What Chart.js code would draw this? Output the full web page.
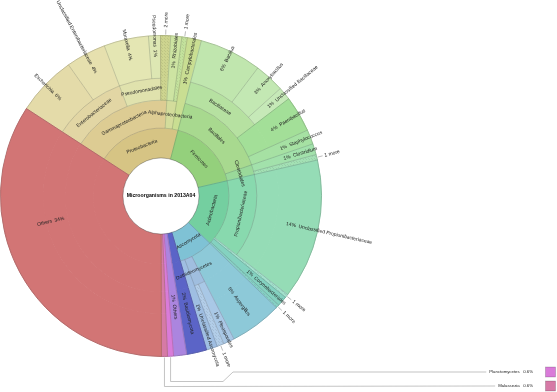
<!DOCTYPE html>
<html>
<head>
<meta charset="utf-8">
<title>Microorganisms in 2013A04</title>
<script src="https://cdn.jsdelivr.net/npm/chart.js@4.4.1/dist/chart.umd.min.js"></script>
<style>
    html, body { margin: 0; padding: 0; background: #fff; }
    #wrap { width: 557px; height: 392px; }
</style>
</head>
<body>
<div id="wrap"><canvas id="krona" width="557" height="392"></canvas></div>
<script>
// leaves, clockwise from the top-left edge of "Others"
const leafNames = [
    'Escherichia', 'Unclassified Enterobacteriaceae', 'Moraxella', 'Pseudomonas', '2 more',
    'Rhizobiales', '1 more', 'Campylobacterales',
    'Bacillus', 'Anoxybacillus', 'Unclassified Bacillaceae', 'Paenibacillus', 'Staphylococcus',
    'Clostridium', '1 more',
    'Unclassified Propionibacteriaceae', '1 more', 'Corynebacteriales', '1 more',
    'Aspergillus', 'Pleosporales', '1 more', 'Unclassified Ascomycota',
    'Basidiomycota', 'Others', 'Planctomycetes', 'Malassezia', 'Others'
];
// percent of all reads
const leafValues = [
    6.0, 4.0, 4.45, 1.2, 1.0,
    1.1, 0.55, 1.4,
    6.2, 3.0, 1.3, 3.6, 1.45,
    1.1, 0.55,
    14.0, 0.35, 1.0, 0.35,
    5.2, 1.1, 0.7, 1.1,
    2.0, 1.3, 0.6, 0.6, 33.9
];
// ranks above each leaf, inner ring first
const leafLineage = [
    ['Proteobacteria', 'Gammaproteobacteria', 'Enterobacteriaceae'],
    ['Proteobacteria', 'Gammaproteobacteria', 'Enterobacteriaceae'],
    ['Proteobacteria', 'Gammaproteobacteria', 'Pseudomonadales'],
    ['Proteobacteria', 'Gammaproteobacteria', 'Pseudomonadales'],
    ['Proteobacteria', 'Gammaproteobacteria'],
    ['Proteobacteria', 'Alphaproteobacteria'],
    ['Proteobacteria', 'Alphaproteobacteria'],
    ['Proteobacteria'],
    ['Firmicutes', 'Bacillales', 'Bacillaceae'],
    ['Firmicutes', 'Bacillales', 'Bacillaceae'],
    ['Firmicutes', 'Bacillales', 'Bacillaceae'],
    ['Firmicutes', 'Bacillales'],
    ['Firmicutes', 'Bacillales'],
    ['Firmicutes', 'Clostridiales'],
    ['Firmicutes', 'Clostridiales'],
    ['Actinobacteria', 'Propionibacteriaceae'],
    ['Actinobacteria'],
    ['Actinobacteria'],
    ['Actinobacteria'],
    ['Ascomycota'],
    ['Ascomycota', 'Dothideomycetes'],
    ['Ascomycota', 'Dothideomycetes'],
    ['Ascomycota'],
    [], [], [], [], []
];
// too thin to label, shown in the key bottom right
const keyLeaves = ['Planctomycetes', 'Malassezia'];
const chartTitle = 'Microorganisms in 2013A04';

const leafColors = [
    '#e4dba9', '#e6e0ae', '#e4e6b3', '#dde7b3', '#cdd48f',
    '#cde4a2', '#c3e19c', '#c9de92',
    '#c0e6ae', '#c3e8b3', '#c6e9b8', '#a3df98', '#a6e1a3',
    '#a2e1ab', '#a3e0b4',
    '#95dcb6', '#a3e0cc', '#84d2c0', '#86d0c4',
    '#8dc9d8', '#a9c8e6', '#b2cde8', '#9fbee2',
    '#5b64c7', '#ab85df', '#d97bd9', '#d67aa6', '#d27575'
];
const nodeColors = {
    'Proteobacteria': '#d6c484', 'Gammaproteobacteria': '#ddcc93', 'Enterobacteriaceae': '#e2d6a4',
    'Pseudomonadales': '#e0e2ad', 'Alphaproteobacteria': '#d3dc9b',
    'Firmicutes': '#94d07c', 'Bacillales': '#a8d98f', 'Bacillaceae': '#b6e1a1', 'Clostridiales': '#9ad99a',
    'Actinobacteria': '#74cfa0', 'Propionibacteriaceae': '#88d9ae',
    'Ascomycota': '#7fc2d5', 'Dothideomycetes': '#a0bedf'
};
// ring thickness, inner ring first
const ringWeights = [30, 28, 22, 43];
const FONT = '"Liberation Sans", Arial, sans-serif';

function isMore(name) {
    return / more$/.test(name);
}

// faint cross hatch for the grouped "n more" wedges
function hatch(color) {
    var c = document.createElement('canvas');
    c.width = 3; c.height = 3;
    var g = c.getContext('2d');
    g.fillStyle = color;
    g.fillRect(0, 0, 3, 3);
    g.fillStyle = 'rgba(0,0,0,0.07)';
    g.fillRect(0, 0, 1, 1);
    g.fillRect(2, 2, 1, 1);
    return g.createPattern(c, 'repeat');
}

// one ring: consecutive leaves with the same node at this depth share a wedge,
// a leaf that stops early keeps its wedge out to the rim
function buildRing(depth) {
    var ring = { data: [], labels: [], fill: [], edge: [], segs: [] };
    leafNames.forEach(function (name, i) {
        var path = leafLineage[i].concat([name]);
        var d = Math.min(depth, path.length - 1);
        var key = path.slice(0, d + 1).join('/');
        var n = ring.segs.length;
        if (n && ring.segs[n - 1].key === key) {
            ring.data[n - 1] += leafValues[i];
            return;
        }
        var leaf = d === path.length - 1;
        var color = leaf ? leafColors[i] : nodeColors[path[d]];
        ring.segs.push({ key: key, name: path[d], leaf: leaf ? i : -1, cont: depth > d });
        ring.labels.push(path[d]);
        ring.data.push(leafValues[i]);
        ring.fill.push(leaf && isMore(name) ? hatch(color) : color);
        ring.edge.push(color);
    });
    return ring;
}

function radialText(ctx, cx, cy, a, r0, text) {
    var right = Math.cos(a) >= -0.001;
    ctx.save();
    ctx.translate(cx, cy);
    ctx.rotate(right ? a : a + Math.PI);
    ctx.textAlign = right ? 'left' : 'right';
    ctx.textBaseline = 'middle';
    ctx.fillText(text, right ? r0 : -r0, 0);
    ctx.restore();
}

function tangentText(ctx, cx, cy, a, r, text) {
    var rot = a + Math.PI / 2;
    if (Math.sin(a) > 0) rot -= Math.PI;
    ctx.save();
    ctx.translate(cx + r * Math.cos(a), cy + r * Math.sin(a));
    ctx.rotate(rot);
    ctx.textAlign = 'center';
    ctx.textBaseline = 'middle';
    ctx.fillText(text, 0, 0);
    ctx.restore();
}

function pct(v) {
    return (v < 1 ? v.toFixed(1) : Math.round(v)) + '%';
}

const kronaPlugin = {
    id: 'krona',
    afterDatasetsDraw(chart) {
        var ctx = chart.ctx;
        var rim = chart.getDatasetMeta(0).controller.outerRadius;
        var hole = 0, cx = 0, cy = 0;
        var keyPoints = {};

        // divider lines
        ctx.save();
        ctx.strokeStyle = 'rgba(70,70,70,0.45)';
        ctx.lineWidth = 0.5;
        chart.data.datasets.forEach(function (ds, di) {
            chart.getDatasetMeta(di).data.forEach(function (arc, i) {
                var p = arc.getProps(['x', 'y', 'startAngle', 'endAngle', 'innerRadius', 'outerRadius']);
                var seg = ds.segs[i];
                cx = p.x; cy = p.y;
                ctx.beginPath();
                ctx.moveTo(p.x + p.innerRadius * Math.cos(p.startAngle), p.y + p.innerRadius * Math.sin(p.startAngle));
                ctx.lineTo(p.x + p.outerRadius * Math.cos(p.startAngle), p.y + p.outerRadius * Math.sin(p.startAngle));
                ctx.stroke();
                if (!seg.cont) {
                    ctx.beginPath();
                    ctx.arc(p.x, p.y, p.innerRadius, p.startAngle, p.endAngle);
                    ctx.stroke();
                }
                if (di === 0) {
                    ctx.beginPath();
                    ctx.arc(p.x, p.y, p.outerRadius, p.startAngle, p.endAngle);
                    ctx.stroke();
                }
                if (di === chart.data.datasets.length - 1) hole = p.innerRadius;
            });
        });
        ctx.restore();

        // labels
        ctx.save();
        ctx.fillStyle = '#222';
        ctx.font = '5px ' + FONT;
        chart.data.datasets.forEach(function (ds, di) {
            chart.getDatasetMeta(di).data.forEach(function (arc, i) {
                var seg = ds.segs[i];
                if (seg.cont) return;
                var p = arc.getProps(['x', 'y', 'startAngle', 'endAngle', 'innerRadius', 'outerRadius']);
                var a = (p.startAngle + p.endAngle) / 2;
                if (seg.leaf < 0) {
                    tangentText(ctx, p.x, p.y, a, (p.innerRadius + p.outerRadius) / 2, seg.name);
                    return;
                }
                var name = leafNames[seg.leaf], v = leafValues[seg.leaf];
                if (keyLeaves.indexOf(name) >= 0) {
                    keyPoints[name] = { x: p.x + rim * Math.cos(a), y: p.y + rim * Math.sin(a) };
                    return;
                }
                if (isMore(name)) {
                    ctx.save();
                    ctx.strokeStyle = '#777';
                    ctx.lineWidth = 0.5;
                    ctx.beginPath();
                    ctx.moveTo(p.x + (rim + 1) * Math.cos(a), p.y + (rim + 1) * Math.sin(a));
                    ctx.lineTo(p.x + (rim + 6) * Math.cos(a), p.y + (rim + 6) * Math.sin(a));
                    ctx.stroke();
                    ctx.restore();
                    radialText(ctx, p.x, p.y, a, rim + 8, name);
                    return;
                }
                // the big wedge carries its label low on the left
                if (v > 20) a = (257 - 90) * Math.PI / 180;
                var right = Math.cos(a) >= -0.001;
                var txt = right ? pct(v) + '  ' + name : name + '  ' + pct(v);
                radialText(ctx, p.x, p.y, a, (p.innerRadius + rim) / 2, txt);
            });
        });
        ctx.restore();

        // centre
        ctx.save();
        ctx.strokeStyle = 'rgba(70,70,70,0.5)';
        ctx.lineWidth = 0.6;
        ctx.fillStyle = '#fff';
        ctx.beginPath();
        ctx.arc(cx, cy, hole, 0, Math.PI * 2);
        ctx.fill();
        ctx.stroke();
        ctx.fillStyle = '#000';
        ctx.font = 'bold 5.2px ' + FONT;
        ctx.textAlign = 'center';
        ctx.textBaseline = 'middle';
        ctx.fillText(chartTitle, cx, cy);
        ctx.restore();

        // key for the thinnest wedges
        var rows = [
            { y: 372, bend: [[0, 381.5], [223, 381.5], [233, 372]] },
            { y: 386, bend: [[0, 386.5]] }
        ];
        ctx.save();
        ctx.font = '4.3px ' + FONT;
        ctx.textBaseline = 'middle';
        keyLeaves.forEach(function (name, k) {
            var i = leafNames.indexOf(name);
            var row = rows[k];
            var label = name + '   ' + pct(leafValues[i]);
            ctx.textAlign = 'right';
            ctx.fillStyle = '#222';
            ctx.fillText(label, 533, row.y);
            var start = 533 - ctx.measureText(label).width - 3;
            var pt = keyPoints[name];
            ctx.strokeStyle = '#aaa';
            ctx.lineWidth = 0.7;
            ctx.beginPath();
            ctx.moveTo(pt.x, pt.y + 1);
            row.bend.forEach(function (b, j) {
                ctx.lineTo(j === 0 ? pt.x : b[0], b[1]);
            });
            ctx.lineTo(start, row.y);
            ctx.stroke();
            ctx.fillStyle = leafColors[i];
            ctx.fillRect(545.5, row.y - 5, 10, 10);
            ctx.strokeStyle = 'rgba(0,0,0,0.25)';
            ctx.strokeRect(545.5, row.y - 5, 10, 10);
        });
        ctx.restore();
    }
};

var rings = [];
for (var d = ringWeights.length - 1; d >= 0; d--) {
    var ring = buildRing(d);
    rings.push({
        data: ring.data,
        labels: ring.labels,
        segs: ring.segs,
        backgroundColor: ring.fill,
        borderColor: ring.edge,
        borderWidth: 1,
        hoverBorderWidth: 0,
        hoverOffset: 0,
        offset: 0,
        weight: ringWeights[d]
    });
}

new Chart(document.getElementById('krona'), {
    type: 'doughnut',
    data: { labels: leafNames, datasets: rings },
    options: {
        responsive: false,
        animation: false,
        events: [],
        cutout: 38,
        rotation: 303,
        layout: { padding: { left: 0, right: 235, top: 35, bottom: 35 } },
        plugins: { legend: { display: false }, tooltip: { enabled: false } }
    },
    plugins: [kronaPlugin]
});
</script>
</body>
</html>
